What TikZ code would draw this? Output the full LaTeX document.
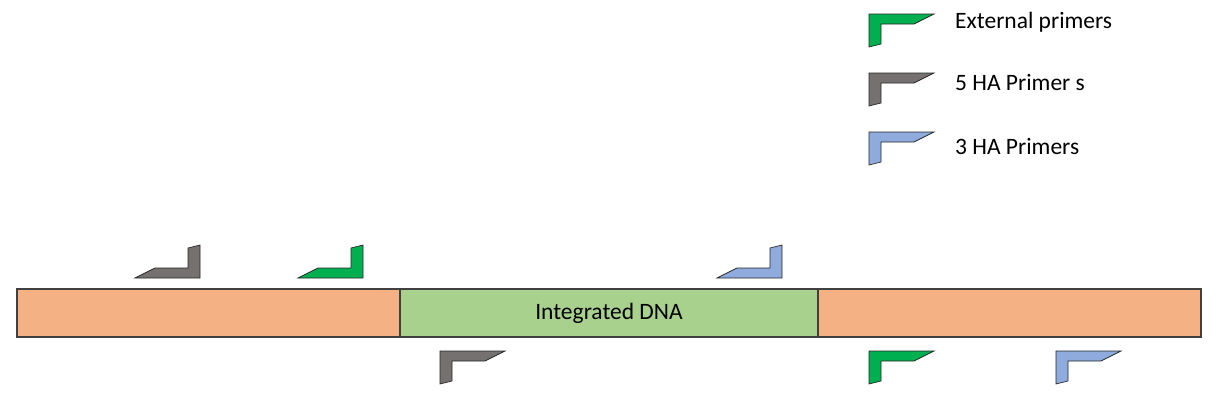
\documentclass[tikz,border=0pt]{standalone}
\usepackage{fontspec}
\setmainfont{Carlito}
\definecolor{orangeDNA}{HTML}{F4B183}
\definecolor{greenDNA}{HTML}{A9D18E}
\definecolor{primerGreen}{HTML}{00B050}
\definecolor{primerGray}{HTML}{767171}
\definecolor{primerBlue}{HTML}{8FAADC}
\definecolor{edgecol}{HTML}{404040}
\begin{document}
\begin{tikzpicture}[x=1pt,y=-1pt,
  segment/.style={draw=edgecol,line width=1.3pt,minimum height=48pt,inner sep=0pt,outer sep=0pt,anchor=north west,font=\fontsize{23.5}{28}\selectfont},
  primer/.pic={\path[pic actions] (0,0) -- (65,0) -- (45,10) -- (12,10) -- (12,30) -- (0,33) -- cycle;},
  primerline/.style={draw=black!85,line width=0.7pt},
  legendtext/.style={anchor=west,inner sep=0pt,font=\fontsize{23.5}{28}\selectfont}
]
\useasboundingbox (0,0) rectangle (1216,400);
% strand
\node[segment,fill=orangeDNA,minimum width=383pt] (left) at (17,289) {};
\node[segment,fill=greenDNA,minimum width=418pt] (mid) at (400,289) {Integrated DNA};
\node[segment,fill=orangeDNA,minimum width=383pt] (right) at (818,289) {};
% legend
\pic[primerline,fill=primerGreen] (legG) at (869,14) {primer};
\pic[primerline,fill=primerGray] (legK) at (869,73) {primer};
\pic[primerline,fill=primerBlue] (legB) at (869,132) {primer};
\node[legendtext] (tG) at (955,22) {External primers};
\node[legendtext] (tK) at (955,82) {5 HA Primer s};
\node[legendtext] (tB) at (955,146) {3 HA Primers};
% reverse primers above strand
\pic[primerline,fill=primerGray,rotate=180] (rK) at (200,278) {primer};
\pic[primerline,fill=primerGreen,rotate=180] (rG) at (363,278) {primer};
\pic[primerline,fill=primerBlue,rotate=180] (rB) at (782,278) {primer};
% forward primers below strand
\pic[primerline,fill=primerGray] (fK) at (440,351) {primer};
\pic[primerline,fill=primerGreen] (fG) at (869,351) {primer};
\pic[primerline,fill=primerBlue] (fB) at (1056,351) {primer};
\end{tikzpicture}
\end{document}
